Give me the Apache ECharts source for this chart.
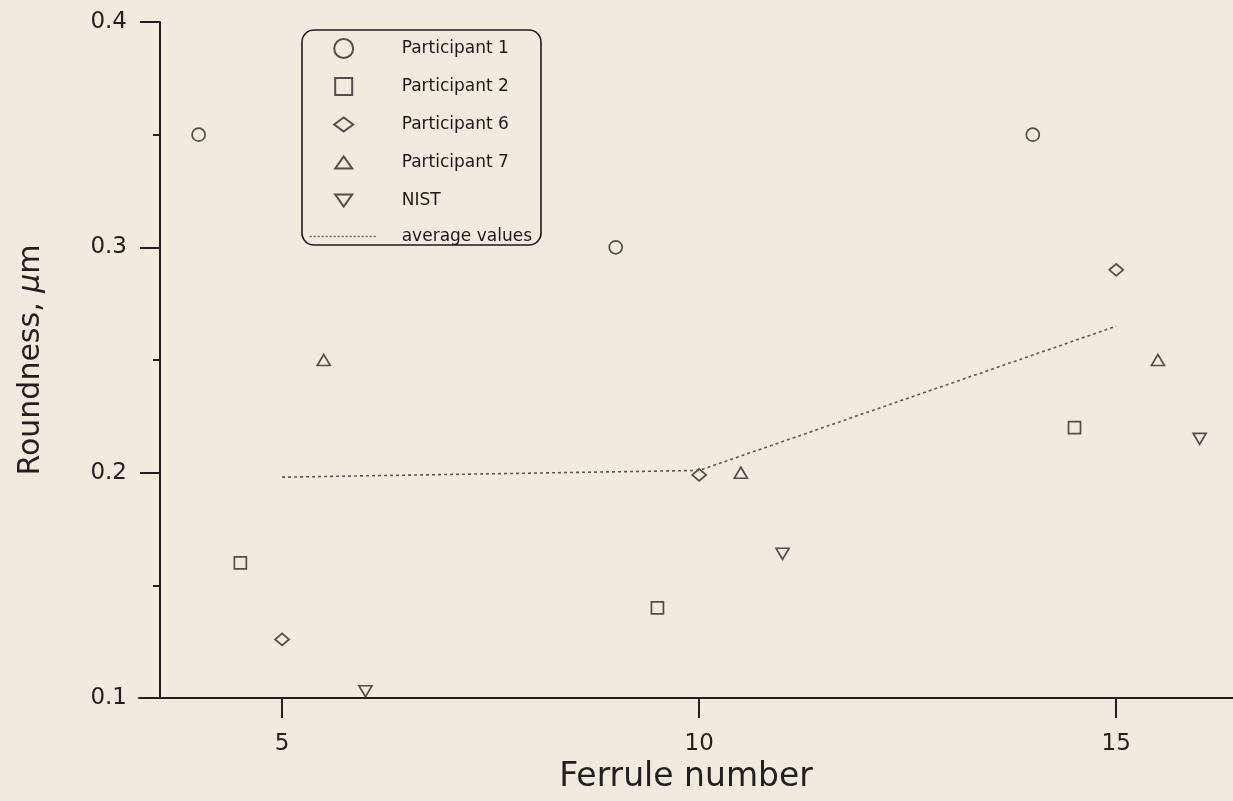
<!DOCTYPE html>
<html>
<head>
<meta charset="utf-8">
<script src="https://cdn.jsdelivr.net/npm/echarts@6/dist/echarts.min.js"></script>
<style>
  html, body { margin: 0; padding: 0; background: #f2eadf; }
  #chart { width: 1233px; height: 801px; }
</style>
</head>
<body>
<div id="chart"></div>
<script>
// Ferrule numbers measured by each participant
const ferruleP1 = [4, 9, 14];
const ferruleP2 = [4.5, 9.5, 14.5];
const ferruleP6 = [5, 10, 15];
const ferruleP7 = [5.5, 10.5, 15.5];
const ferruleNIST = [6, 11, 16];
const ferruleAvg = [5, 10, 15];

// Roundness values, µm
const roundP1 = [0.35, 0.30, 0.35];
const roundP2 = [0.16, 0.14, 0.22];
const roundP6 = [0.126, 0.199, 0.29];
const roundP7 = [0.25, 0.20, 0.25];
const roundNIST = [0.103, 0.164, 0.215];
const roundAvg = [0.198, 0.201, 0.265];

const xTicks = [5, 10, 15];
const seriesNames = ['Participant 1', 'Participant 2', 'Participant 6', 'Participant 7', 'NIST', 'average values'];

const pairs = (xs, ys) => xs.map((x, i) => [x, ys[i]]);

const ink = '#231f1f';
const font = 'DejaVu Sans';
const hollow = { color: 'rgba(0,0,0,0)', borderColor: '#2a2525', borderWidth: 1.7 };
const clear = { color: 'rgba(0,0,0,0)', borderColor: 'rgba(0,0,0,0)', borderWidth: 0 };

const chart = echarts.init(document.getElementById('chart'), null, { renderer: 'canvas' });

chart.setOption({
  backgroundColor: '#f2eadf',
  animation: false,
  grid: { left: 139, right: 0, top: 22, bottom: 103, containLabel: false, outerBoundsMode: 'none' },
  legend: {
    left: 302,
    top: 30,
    orient: 'vertical',
    selectedMode: false,
    itemWidth: 68,
    itemHeight: 19,
    itemGap: 17,
    padding: [8, 9, 0, 7],
    borderColor: '#1e1a1a',
    borderWidth: 1.6,
    borderRadius: 12,
    textStyle: { fontFamily: font, fontSize: 17, color: '#1c1919', padding: [0, 0, 0, 19] },
    data: [
      { name: seriesNames[0], icon: 'circle' },
      { name: seriesNames[1], icon: 'path://M0,0M19,19M1,1L18,1L18,18L1,18Z' },
      { name: seriesNames[2], icon: 'path://M0,0M19,19M0,9.5L9.5,2.5L19,9.5L9.5,16.5Z' },
      { name: seriesNames[3], icon: 'path://M0,0M19,19M1,15.5L9.5,3.5L18,15.5Z' },
      { name: seriesNames[4], icon: 'path://M0,0M19,19M1,3.5L18,3.5L9.5,15.5Z' },
      { name: seriesNames[5], itemStyle: clear, lineStyle: { color: '#6a6464', width: 1.4, type: [2, 2] } }
    ]
  },
  xAxis: {
    type: 'value',
    min: 3.285,
    max: 16.4,
    name: 'Ferrule number',
    nameLocation: 'middle',
    nameGap: 51,
    nameTextStyle: { fontFamily: font, fontSize: 33, color: ink },
    splitLine: { show: false },
    axisLine: { lineStyle: { color: ink, width: 2 } },
    axisTick: { customValues: xTicks, length: 20, lineStyle: { color: ink, width: 2 } },
    axisLabel: { customValues: xTicks, margin: 35, fontFamily: font, fontSize: 23, color: ink }
  },
  yAxis: {
    type: 'value',
    min: 0.1,
    max: 0.4,
    interval: 0.1,
    offset: -21,
    name: '{t|Roundness, }{mu|μ}{t|m}',
    nameLocation: 'middle',
    nameGap: 114,
    nameTextStyle: {
      color: ink,
      rich: {
        t: { fontFamily: font, fontSize: 30, color: ink },
        mu: { fontFamily: font, fontSize: 30, fontStyle: 'italic', color: ink }
      }
    },
    splitLine: { show: false },
    axisLine: { lineStyle: { color: ink, width: 2 } },
    axisTick: { length: 20, lineStyle: { color: ink, width: 2 } },
    minorTick: { show: true, splitNumber: 2, length: 7, lineStyle: { color: ink, width: 2 } },
    axisLabel: { margin: 33, fontFamily: font, fontSize: 23, color: ink, formatter: v => v.toFixed(1) }
  },
  series: [
    { name: seriesNames[0], type: 'scatter', symbol: 'circle', symbolSize: 13, itemStyle: hollow, data: pairs(ferruleP1, roundP1) },
    { name: seriesNames[1], type: 'scatter', symbol: 'rect', symbolSize: 12, itemStyle: hollow, data: pairs(ferruleP2, roundP2) },
    { name: seriesNames[2], type: 'scatter', symbol: 'diamond', symbolSize: [14, 12], itemStyle: hollow, data: pairs(ferruleP6, roundP6) },
    { name: seriesNames[3], type: 'scatter', symbol: 'triangle', symbolSize: [13, 11], itemStyle: hollow, data: pairs(ferruleP7, roundP7) },
    { name: seriesNames[4], type: 'scatter', symbol: 'path://M0,0L12,0L6,10Z', symbolSize: [13, 11], itemStyle: hollow, data: pairs(ferruleNIST, roundNIST) },
    {
      name: seriesNames[5], type: 'line', showSymbol: false, symbol: 'none',
      lineStyle: { color: '#5e5858', width: 1.6, type: [3, 3] },
      itemStyle: { color: '#5e5858' },
      data: pairs(ferruleAvg, roundAvg)
    }
  ]
});
</script>
</body>
</html>
